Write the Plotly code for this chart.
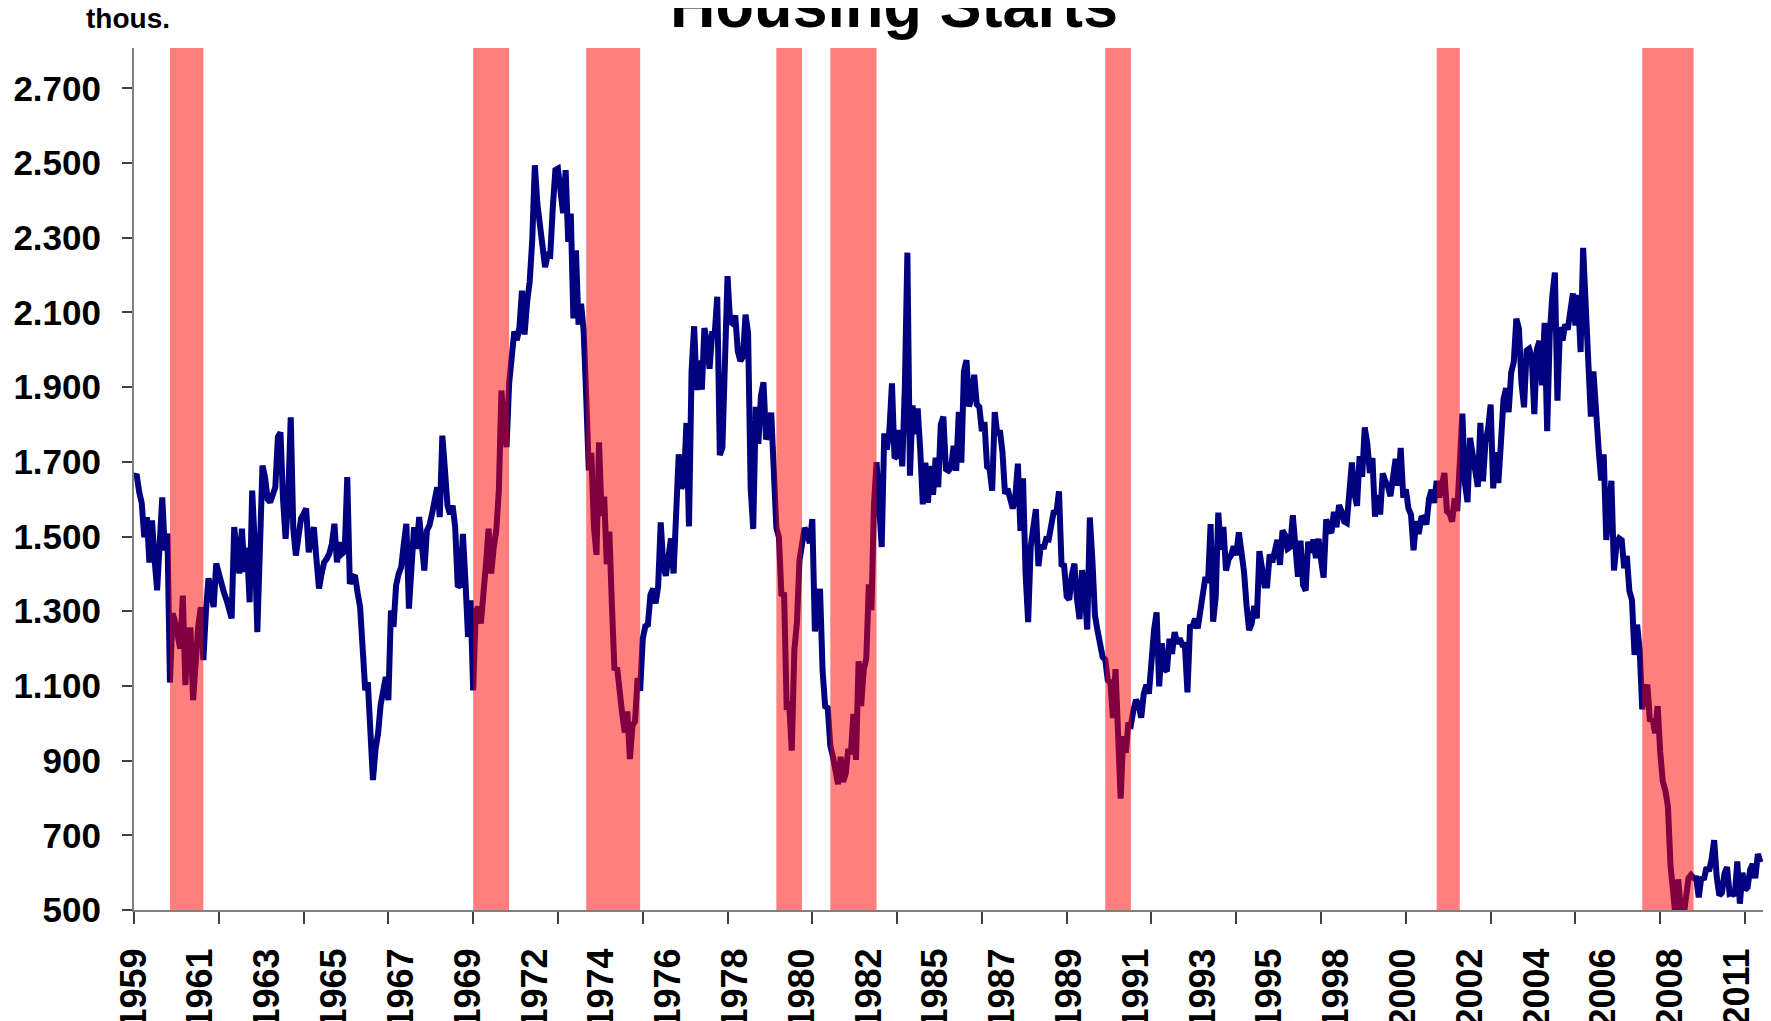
import plotly.graph_objects as go

# monthly housing starts, thous. (seasonally adjusted annual rate), Jan 1959 - Oct 2011
first_year = 1959

starts_1959_1969 = [
    1657, 1667, 1620, 1590, 1498, 1552, 1430, 1543, 1440, 1356, 1480, 1605,
    1463, 1508, 1109, 1294, 1271, 1240, 1200, 1342, 1102, 1249, 1249, 1062,
    1190, 1260, 1311, 1169, 1300, 1388, 1350, 1311, 1428, 1400, 1365, 1350,
    1330, 1300, 1281, 1525, 1450, 1401, 1521, 1405, 1470, 1324, 1623, 1480,
    1244, 1470, 1690, 1659, 1600, 1592, 1610, 1632, 1766, 1779, 1600, 1494,
    1600, 1819, 1520, 1449, 1500, 1548, 1560, 1575, 1458, 1500, 1525, 1440,
    1361, 1400, 1431, 1440, 1454, 1480, 1534, 1431, 1485, 1454, 1460, 1659,
    1373, 1390, 1396, 1350, 1311, 1200, 1088, 1110, 1000, 848, 930, 973,
    1050, 1090, 1124, 1062, 1302, 1258, 1369, 1400, 1418, 1480, 1534, 1307,
    1420, 1525, 1467, 1552, 1480, 1409, 1516, 1530, 1561, 1600, 1632, 1552,
    1770, 1680, 1583, 1560, 1583, 1525, 1365, 1370, 1507, 1380, 1231, 1329,
]
starts_1970_1979 = [
    1088, 1300, 1311, 1267, 1330, 1427, 1521, 1401, 1470, 1516, 1623, 1891,
    1800, 1739, 1910, 1986, 2049, 2026, 2060, 2158, 2041, 2128, 2182, 2295,
    2494, 2390, 2334, 2249, 2221, 2254, 2252, 2382, 2481, 2485, 2421, 2366,
    2481, 2289, 2365, 2084, 2266, 2067, 2123, 2051, 1874, 1677, 1724, 1526,
    1451, 1752, 1555, 1607, 1426, 1513, 1316, 1142, 1150, 1070, 1026, 975,
    1032, 904, 993, 1005, 1121, 1087, 1226, 1260, 1264, 1344, 1360, 1321,
    1367, 1538, 1421, 1395, 1459, 1495, 1401, 1550, 1720, 1629, 1641, 1804,
    1527, 1943, 2063, 1892, 1971, 1893, 2058, 2020, 1949, 2042, 2042, 2142,
    1718, 1738, 2032, 2197, 2075, 2070, 2092, 1996, 1970, 1981, 2094, 2044,
    1630, 1520, 1847, 1748, 1876, 1913, 1760, 1778, 1832, 1681, 1524, 1498,
]
starts_1980_1989 = [
    1341, 1350, 1047, 1051, 927, 1196, 1269, 1436, 1471, 1523, 1510, 1482,
    1547, 1246, 1306, 1360, 1140, 1045, 1041, 940, 911, 873, 837, 910,
    843, 866, 931, 917, 1025, 902, 1166, 1046, 1144, 1173, 1372, 1303,
    1586, 1699, 1606, 1472, 1776, 1733, 1785, 1910, 1710, 1715, 1785, 1688,
    1897, 2260, 1663, 1851, 1774, 1843, 1732, 1586, 1698, 1590, 1689, 1612,
    1711, 1632, 1800, 1821, 1680, 1676, 1684, 1743, 1676, 1834, 1698, 1942,
    1972, 1848, 1876, 1933, 1854, 1847, 1782, 1807, 1687, 1681, 1623, 1833,
    1774, 1784, 1726, 1614, 1628, 1594, 1575, 1605, 1695, 1515, 1656, 1400,
    1271, 1473, 1532, 1573, 1421, 1478, 1467, 1493, 1492, 1522, 1569, 1563,
    1621, 1425, 1422, 1339, 1331, 1397, 1427, 1332, 1279, 1410, 1351, 1251,
]
starts_1990_1999 = [
    1551, 1437, 1289, 1248, 1212, 1177, 1171, 1115, 1110, 1014, 1145, 969,
    798, 965, 921, 1001, 996, 1036, 1063, 1049, 1015, 1079, 1103, 1079,
    1176, 1250, 1297, 1099, 1214, 1145, 1139, 1226, 1186, 1244, 1214, 1227,
    1210, 1210, 1083, 1258, 1260, 1280, 1254, 1300, 1343, 1392, 1376, 1533,
    1272, 1337, 1564, 1465, 1526, 1409, 1439, 1450, 1474, 1450, 1511, 1455,
    1407, 1316, 1249, 1267, 1314, 1281, 1461, 1416, 1369, 1369, 1452, 1431,
    1467, 1491, 1424, 1516, 1504, 1467, 1472, 1557, 1475, 1392, 1489, 1370,
    1355, 1486, 1457, 1492, 1442, 1494, 1437, 1390, 1546, 1520, 1510, 1566,
    1525, 1584, 1567, 1540, 1536, 1641, 1698, 1614, 1582, 1715, 1660, 1792,
    1748, 1670, 1710, 1553, 1611, 1559, 1669, 1648, 1635, 1608, 1648, 1708,
]
starts_2000_2011 = [
    1636, 1737, 1604, 1626, 1575, 1559, 1463, 1541, 1507, 1549, 1551, 1532,
    1600, 1625, 1590, 1649, 1605, 1636, 1670, 1567, 1562, 1540, 1602, 1568,
    1698, 1829, 1642, 1592, 1764, 1717, 1655, 1633, 1804, 1648, 1753, 1788,
    1853, 1629, 1726, 1643, 1751, 1867, 1897, 1833, 1939, 1967, 2083, 2057,
    1911, 1846, 1998, 2003, 1981, 1828, 2002, 2024, 1905, 2072, 1782, 2042,
    2144, 2207, 1864, 2061, 2025, 2068, 2054, 2095, 2151, 2065, 2147, 1994,
    2273, 2119, 1969, 1821, 1942, 1802, 1737, 1650, 1720, 1491, 1570, 1649,
    1409, 1480, 1495, 1490, 1415, 1448, 1354, 1330, 1183, 1264, 1197, 1037,
    1084, 1103, 1005, 1013, 973, 1046, 923, 844, 820, 777, 620, 530,
    480, 582, 505, 478, 540, 585, 594, 586, 585, 534, 588, 581,
    614, 604, 636, 687, 588, 539, 546, 598, 615, 543, 545, 539,
    630, 517, 600, 554, 561, 608, 623, 585, 650, 628,
]

# recession shading, first and last month as drawn
rec_start = ["1960-03", "1970-01", "1973-09", "1979-11", "1981-08", "1990-07", "2001-04", "2007-12"]
rec_end = ["1961-04", "1971-03", "1975-06", "1980-09", "1983-02", "1991-05", "2002-01", "2009-08"]

starts = starts_1959_1969 + starts_1970_1979 + starts_1980_1989 + starts_1990_1999 + starts_2000_2011
months = [f"{first_year + i // 12}-{i % 12 + 1:02d}" for i in range(len(starts))]
x = list(range(len(starts)))

font_family = "Liberation Sans, Arial, sans-serif"

fig = go.Figure(go.Scatter(
    x=x, y=starts,
    mode="lines",
    line=dict(color="#000080", width=6),
    hoverinfo="skip",
    showlegend=False,
))

# recessions drawn over the line, half transparent
for s, e in zip(rec_start, rec_end):
    fig.add_shape(type="rect", layer="above",
                  xref="x", x0=months.index(s), x1=months.index(e),
                  yref="y domain", y0=0, y1=1,
                  fillcolor="red", opacity=0.5, line_width=0)

fig.update_xaxes(
    range=[0, len(starts)],
    automargin=False,
    tickmode="array",
    tickvals=x[::26],
    ticktext=[m[:4] for m in months[::26]],
    tickangle=-90,
    ticks="",
    ticklabelstandoff=22,
    tickfont=dict(family=font_family, size=36, color="black", weight="bold"),
    minor=dict(tickmode="linear", tick0=0, dtick=33, ticks="outside",
               ticklen=12, tickwidth=2, tickcolor="#404040"),
    showline=True, linecolor="#808080", linewidth=2,
    showgrid=False, zeroline=False,
)

fig.update_yaxes(
    range=[500, 2808],
    automargin=False,
    tick0=500, dtick=200,
    tickformat=",",
    ticks="outside", ticklen=10, tickwidth=2, tickcolor="#404040",
    ticklabelstandoff=14,
    tickfont=dict(family=font_family, size=35, color="black", weight="bold"),
    showline=True, linecolor="#808080", linewidth=2,
    showgrid=False, zeroline=False,
)

fig.add_annotation(text="Housing Starts", xref="paper", yref="paper",
                   x=0.4665, y=1.0066, xanchor="center", yanchor="bottom",
                   showarrow=False,
                   font=dict(family=font_family, size=63, color="black", weight="bold"))
fig.add_annotation(text="thous.", xref="paper", yref="paper",
                   x=-0.0037, y=1.014, xanchor="center", yanchor="bottom",
                   showarrow=False,
                   font=dict(family=font_family, size=28, color="black", weight="bold"))

# the page puts the figure 8 px in from the top left corner
fig.update_layout(
    width=1771, height=1021,
    margin=dict(l=126, r=16, t=40, b=119),
    paper_bgcolor="white", plot_bgcolor="white",
    separators=",.",
    showlegend=False,
)

fig.write_html("out.html")
